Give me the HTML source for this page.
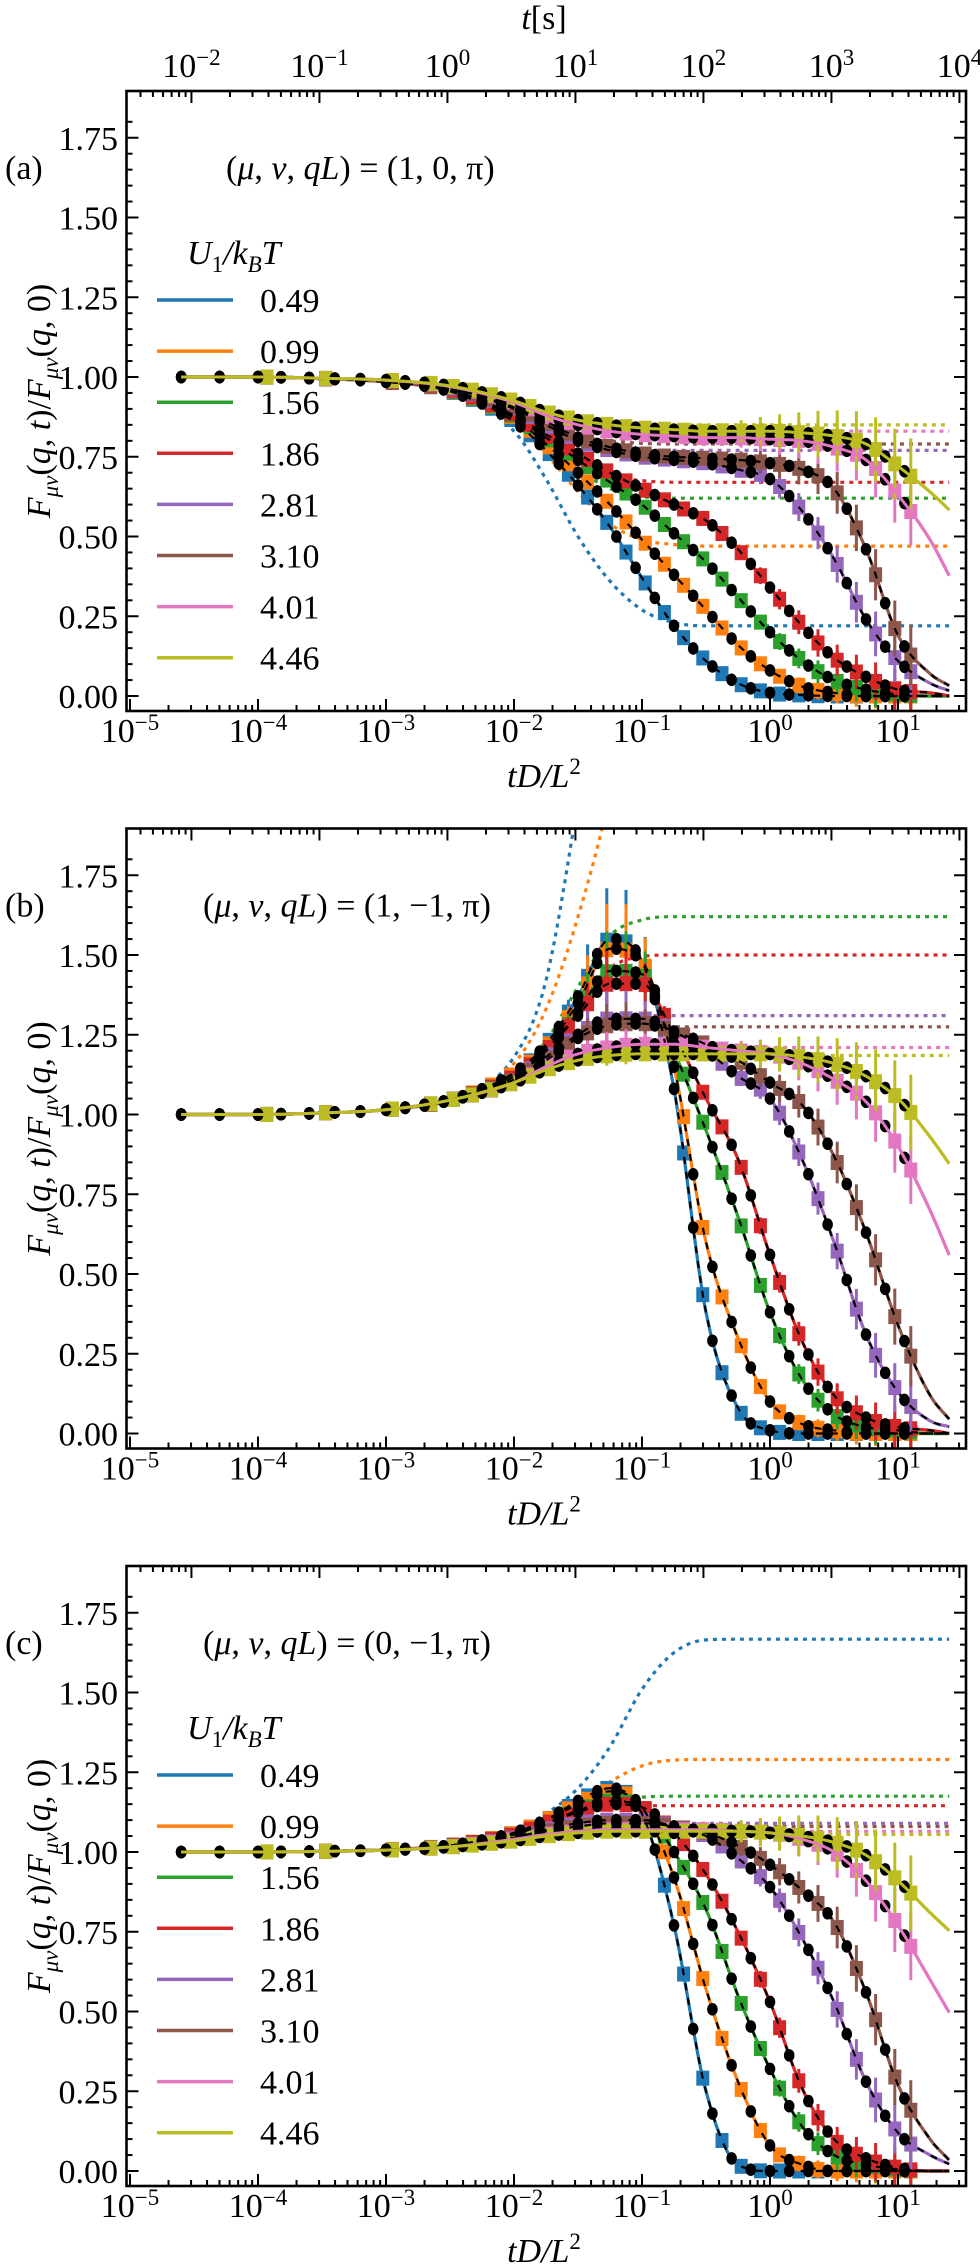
<!DOCTYPE html>
<html><head><meta charset="utf-8">
<style>
html,body{margin:0;padding:0;background:#fff;}
svg{display:block;font-family:"Liberation Serif","DejaVu Serif",serif;}
</style></head>
<body>
<svg id="fig" width="980" height="2266" viewBox="0 0 980 2266" xmlns="http://www.w3.org/2000/svg">
<rect x="0" y="0" width="980" height="2266" fill="#fff"/>
</svg>
<script>
// ---------- DATA ----------
const seriesLabels = ['0.49','0.99','1.56','1.86','2.81','3.10','4.01','4.46'];
const seriesColors = ['#1f77b4','#ff7f0e','#2ca02c','#d62728','#9467bd','#8c564b','#e377c2','#bcbd22'];
const panelLetters = ['(a)','(b)','(c)'];
const panelTitles = ['(1, 0, π)','(1, −1, π)','(0, −1, π)'];
const knotsLogX = [-4.6,-4,-3.5,-3,-2.5,-2,-1.75,-1.5,-1.25,-1,-0.75,-0.5,-0.25,0,0.25,0.5,0.75,1,1.25,1.41];
const yTicks = ['0.00','0.25','0.50','0.75','1.00','1.25','1.50','1.75'];
const xTickExps = [-5,-4,-3,-2,-1,0,1];
const topTickExps = [-2,-1,0,1,2,3,4];
const squareLogX = [-3.93,-3.47,-2.95,-2.65,-2.475,-2.325,-2.175,-2.025,-1.875,-1.725,-1.575,-1.425,-1.275,-1.125,-0.975,-0.825,-0.675,-0.525,-0.375,-0.225,-0.075,0.075,0.225,0.375,0.525,0.675,0.825,0.975,1.1];
const circleLogX = [-4.6,-4.3,-4.0,-3.82,-3.6,-3.4,-3.2,-3.0,-2.85,-2.7,-2.55,-2.4,-2.25,-2.1,-1.95,-1.8,-1.65,-1.5,-1.35,-1.2,-1.05,-0.9,-0.75,-0.6,-0.45,-0.3,-0.15,0,0.15,0.3,0.45,0.6,0.75,0.9,1.05];

const panelASolid = [
 [1,1,0.995,0.985,0.955,0.86,0.77,0.66,0.53,0.37,0.22,0.11,0.04,0.01,0.003,0,0,0,0,0],
 [1,1,0.995,0.985,0.957,0.87,0.79,0.70,0.60,0.49,0.38,0.27,0.16,0.08,0.03,0.01,0,0,0,0],
 [1,1,0.995,0.985,0.958,0.875,0.81,0.74,0.67,0.60,0.51,0.42,0.31,0.20,0.11,0.05,0.02,0.005,0,0],
 [1,1,0.995,0.985,0.96,0.88,0.82,0.76,0.70,0.65,0.60,0.55,0.46,0.34,0.22,0.12,0.06,0.02,0.01,0],
 [1,1,0.995,0.987,0.965,0.90,0.85,0.80,0.77,0.75,0.74,0.73,0.71,0.68,0.58,0.43,0.24,0.11,0.04,0.015],
 [1,1,0.995,0.987,0.966,0.905,0.86,0.81,0.78,0.76,0.75,0.745,0.74,0.73,0.71,0.65,0.46,0.19,0.07,0.03],
 [1,1,0.996,0.99,0.97,0.92,0.88,0.85,0.83,0.82,0.815,0.81,0.81,0.805,0.80,0.78,0.74,0.63,0.49,0.37],
 [1,1,0.996,0.99,0.972,0.925,0.89,0.865,0.85,0.84,0.835,0.83,0.83,0.83,0.825,0.815,0.79,0.72,0.64,0.58]
];
const panelADotted = [
 [1,1,0.995,0.985,0.95,0.83,0.68,0.50,0.36,0.27,0.23,0.22,0.22,0.22,0.22,0.22,0.22,0.22,0.22,0.22],
 [1,1,0.995,0.985,0.955,0.86,0.76,0.64,0.54,0.49,0.475,0.47,0.47,0.47,0.47,0.47,0.47,0.47,0.47,0.47],
 [1,1,0.995,0.985,0.957,0.87,0.79,0.71,0.65,0.625,0.62,0.62,0.62,0.62,0.62,0.62,0.62,0.62,0.62,0.62],
 [1,1,0.995,0.985,0.96,0.88,0.80,0.73,0.69,0.675,0.67,0.67,0.67,0.67,0.67,0.67,0.67,0.67,0.67,0.67],
 [1,1,0.995,0.987,0.965,0.90,0.84,0.80,0.78,0.772,0.77,0.77,0.77,0.77,0.77,0.77,0.77,0.77,0.77,0.77],
 [1,1,0.995,0.987,0.966,0.905,0.855,0.815,0.80,0.792,0.79,0.79,0.79,0.79,0.79,0.79,0.79,0.79,0.79,0.79],
 [1,1,0.996,0.99,0.97,0.92,0.88,0.85,0.835,0.83,0.83,0.83,0.83,0.83,0.83,0.83,0.83,0.83,0.83,0.83],
 [1,1,0.996,0.99,0.972,0.925,0.89,0.865,0.855,0.85,0.85,0.85,0.85,0.85,0.85,0.85,0.85,0.85,0.85,0.85]
];
const panelBSolid = [
 [1,1,1.005,1.015,1.045,1.13,1.22,1.37,1.55,1.48,1.08,0.38,0.08,0.01,0,0,0,0,0,0],
 [1,1,1.005,1.015,1.045,1.13,1.21,1.35,1.52,1.48,1.15,0.60,0.30,0.10,0.03,0.01,0,0,0,0],
 [1,1,1.005,1.015,1.045,1.12,1.20,1.32,1.45,1.44,1.20,0.95,0.68,0.38,0.17,0.06,0.02,0.01,0,0],
 [1,1,1.005,1.015,1.045,1.12,1.20,1.31,1.41,1.41,1.25,1.05,0.86,0.56,0.29,0.12,0.05,0.02,0.01,0],
 [1,1,1.005,1.015,1.045,1.11,1.18,1.25,1.30,1.30,1.26,1.20,1.12,1.05,0.86,0.60,0.31,0.13,0.04,0.02],
 [1,1,1.005,1.015,1.045,1.11,1.17,1.24,1.28,1.285,1.26,1.22,1.17,1.10,1.03,0.87,0.63,0.34,0.12,0.04],
 [1,1,1.005,1.015,1.045,1.10,1.15,1.19,1.21,1.22,1.22,1.21,1.20,1.19,1.16,1.11,1.04,0.90,0.70,0.55],
 [1,1,1.005,1.015,1.045,1.10,1.14,1.17,1.185,1.19,1.19,1.19,1.19,1.19,1.18,1.16,1.12,1.05,0.93,0.84]
];
const panelBDotted = [
 [1,1,1.005,1.015,1.05,1.18,1.42,1.98,2.6,3,3,3,3,3,3,3,3,3,3,3],
 [1,1,1.005,1.015,1.05,1.16,1.33,1.62,2.0,2.5,3,3,3,3,3,3,3,3,3,3],
 [1,1,1.005,1.015,1.045,1.13,1.23,1.40,1.56,1.61,1.62,1.62,1.62,1.62,1.62,1.62,1.62,1.62,1.62,1.62],
 [1,1,1.005,1.015,1.045,1.12,1.21,1.35,1.46,1.495,1.50,1.50,1.50,1.50,1.50,1.50,1.50,1.50,1.50,1.50],
 [1,1,1.005,1.015,1.045,1.11,1.18,1.25,1.30,1.31,1.31,1.31,1.31,1.31,1.31,1.31,1.31,1.31,1.31,1.31],
 [1,1,1.005,1.015,1.045,1.11,1.17,1.24,1.27,1.275,1.275,1.275,1.275,1.275,1.275,1.275,1.275,1.275,1.275,1.275],
 [1,1,1.005,1.015,1.045,1.10,1.15,1.19,1.205,1.21,1.21,1.21,1.21,1.21,1.21,1.21,1.21,1.21,1.21,1.21],
 [1,1,1.005,1.015,1.045,1.10,1.14,1.17,1.182,1.185,1.185,1.185,1.185,1.185,1.185,1.185,1.185,1.185,1.185,1.185]
];
const panelCSolid = [
 [1,1,1.002,1.007,1.02,1.06,1.10,1.16,1.20,1.12,0.77,0.25,0.02,0,0,0,0,0,0,0],
 [1,1,1.002,1.007,1.02,1.06,1.10,1.15,1.19,1.14,0.92,0.57,0.28,0.08,0.02,0,0,0,0,0],
 [1,1,1.002,1.007,1.02,1.055,1.09,1.13,1.16,1.14,1.00,0.82,0.55,0.32,0.14,0.05,0.02,0.005,0,0],
 [1,1,1.002,1.007,1.02,1.055,1.09,1.125,1.15,1.14,1.06,0.93,0.75,0.53,0.26,0.10,0.04,0.01,0,0],
 [1,1,1.002,1.006,1.018,1.045,1.07,1.09,1.10,1.10,1.08,1.05,0.98,0.89,0.73,0.53,0.28,0.12,0.05,0.02],
 [1,1,1.002,1.006,1.018,1.043,1.065,1.08,1.09,1.09,1.08,1.06,1.02,0.96,0.88,0.78,0.56,0.27,0.10,0.03],
 [1,1,1.002,1.006,1.016,1.04,1.055,1.065,1.07,1.07,1.07,1.07,1.065,1.06,1.04,1.00,0.91,0.77,0.60,0.49],
 [1,1,1.002,1.006,1.016,1.035,1.05,1.06,1.065,1.065,1.065,1.065,1.065,1.06,1.05,1.03,0.99,0.91,0.81,0.75]
];
const panelCDotted = [
 [1,1,1.002,1.007,1.02,1.07,1.12,1.20,1.33,1.51,1.625,1.665,1.667,1.667,1.667,1.667,1.667,1.667,1.667,1.667],
 [1,1,1.002,1.007,1.02,1.065,1.10,1.15,1.22,1.27,1.288,1.29,1.29,1.29,1.29,1.29,1.29,1.29,1.29,1.29],
 [1,1,1.002,1.007,1.02,1.055,1.09,1.13,1.16,1.172,1.175,1.175,1.175,1.175,1.175,1.175,1.175,1.175,1.175,1.175],
 [1,1,1.002,1.007,1.02,1.055,1.09,1.12,1.14,1.145,1.145,1.145,1.145,1.145,1.145,1.145,1.145,1.145,1.145,1.145],
 [1,1,1.002,1.006,1.018,1.045,1.07,1.085,1.09,1.09,1.09,1.09,1.09,1.09,1.09,1.09,1.09,1.09,1.09,1.09],
 [1,1,1.002,1.006,1.018,1.043,1.063,1.075,1.08,1.08,1.08,1.08,1.08,1.08,1.08,1.08,1.08,1.08,1.08,1.08],
 [1,1,1.002,1.006,1.016,1.04,1.055,1.063,1.065,1.065,1.065,1.065,1.065,1.065,1.065,1.065,1.065,1.065,1.065,1.065],
 [1,1,1.002,1.006,1.016,1.035,1.048,1.054,1.055,1.055,1.055,1.055,1.055,1.055,1.055,1.055,1.055,1.055,1.055,1.055]
];
const solids = [panelASolid, panelBSolid, panelCSolid];
const dotteds = [panelADotted, panelBDotted, panelCDotted];

// ---------- LAYOUT ----------
const NS = 'http://www.w3.org/2000/svg';
const svg = document.getElementById('fig');
const panelOffsets = [0, 737.5, 1475];
const X0 = 130, DEC = 128, L = 126.5, R = 966;
const TOPSHIFT = 2.52;
function xPix(lx){ return X0 + (lx + 5) * DEC; }
function yPix(v, oy){ return oy + 377 + (1 - v) * 319; }
function mk(tag, attrs, parent){
  const e = document.createElementNS(NS, tag);
  for (const k in attrs) e.setAttribute(k, attrs[k]);
  (parent || svg).appendChild(e);
  return e;
}
function interp(xs, ys, x){
  const n = xs.length;
  if (x <= xs[0]) return ys[0];
  if (x >= xs[n-1]) return ys[n-1];
  const d = [], m = [];
  for (let i=0;i<n-1;i++) d.push((ys[i+1]-ys[i])/(xs[i+1]-xs[i]));
  m.push(d[0]);
  for (let i=1;i<n-1;i++){ m.push(d[i-1]*d[i] <= 0 ? 0 : (d[i-1]+d[i])/2); }
  m.push(d[n-2]);
  for (let i=0;i<n-1;i++){
    if (d[i]===0){ m[i]=0; m[i+1]=0; continue; }
    const a=m[i]/d[i], b=m[i+1]/d[i], s=a*a+b*b;
    if (s>9){ const t=3/Math.sqrt(s); m[i]=t*a*d[i]; m[i+1]=t*b*d[i]; }
  }
  let k=0; while (x > xs[k+1]) k++;
  const h = xs[k+1]-xs[k], t=(x-xs[k])/h;
  const h00=2*t*t*t-3*t*t+1, h10=t*t*t-2*t*t+t, h01=-2*t*t*t+3*t*t, h11=t*t*t-t*t;
  return h00*ys[k]+h10*h*m[k]+h01*ys[k+1]+h11*h*m[k+1];
}
function curvePath(vals, oy){
  let d='';
  for (let lx=knotsLogX[0]; lx<=knotsLogX[knotsLogX.length-1]+1e-9; lx+=0.02){
    const v = interp(knotsLogX, vals, lx);
    d += (d?'L':'M') + xPix(lx).toFixed(1) + ',' + yPix(v, oy).toFixed(1);
  }
  return d;
}

const defs = mk('defs', {});
for (let p=0;p<3;p++){
  const oy = panelOffsets[p];
  const cp = mk('clipPath', {id:'clip'+p}, defs);
  mk('rect', {x:L, y:oy+91, width:R-L, height:620}, cp);
}

for (let p=0;p<3;p++){
  const oy = panelOffsets[p];
  const g = mk('g', {});
  
  
  const plot = mk('g', {'clip-path':'url(#clip'+p+')'}, g);
  
  

  for (let s=0;s<8;s++){
    const e = mk('path', {d:curvePath(dotteds[p][s], oy), fill:'none', stroke:seriesColors[s], 'stroke-width':3.2, 'stroke-dasharray':'4 5'}, plot);
    
    
  }
  for (let s=0;s<8;s++){
    const sg = mk('g', {}, plot);
    
    
    for (const lx of squareLogX){
      const v = interp(knotsLogX, solids[p][s], lx);
      let err = (0.008 + 0.045*Math.max(0, lx+0.6)) * (0.4 + s/7);
      if (p===1) err += 0.17*Math.exp(-Math.pow((lx+1.2)/0.3,2))*(1 - s/8);
      const x = xPix(lx), y = yPix(v, oy), eh = err*319;
      const eb = mk('line', {x1:x, x2:x, y1:y-eh, y2:y+eh, stroke:seriesColors[s], 'stroke-width':3}, sg);
      
      
      const sq = mk('rect', {x:x-6.5, y:y-7.5, width:13, height:15, fill:seriesColors[s]}, sg);
      
      
    }
    const line = mk('path', {d:curvePath(solids[p][s], oy), fill:'none', stroke:seriesColors[s], 'stroke-width':3.2}, sg);
    
    
  }
  for (let s=0;s<8;s++){
    const tg = mk('g', {}, plot);
    
    
    for (const lx of circleLogX){
      const v = interp(knotsLogX, solids[p][s], lx);
      const c = mk('ellipse', {cx:xPix(lx), cy:yPix(v, oy), rx:5.3, ry:6.3, fill:'#000'}, tg);
      
      
    }
    const dl = mk('path', {d:curvePath(solids[p][s], oy), fill:'none', stroke:'#000', 'stroke-width':2.2, 'stroke-dasharray':'7 8'}, tg);
    
    
  }
  for (const s of [6,7]){
    const l2 = mk('path', {d:curvePath(solids[p][s], oy), fill:'none', stroke:seriesColors[s], 'stroke-width':3}, plot);
    
    
  }

  const frame = mk('rect', {x:L, y:oy+91, width:R-L, height:620, fill:'none', stroke:'#000', 'stroke-width':2.6}, g);
  
  

  const yt = mk('g', {stroke:'#000', 'stroke-width':2}, g);
  
  
  for (let k=0;k<=37;k++){
    const v = -0.05 + k*0.05;
    const y = yPix(v, oy);
    if (y < oy+92 || y > oy+710) continue;
    const major = Math.abs(Math.round(v*4) - v*4) < 1e-6;
    const len = major ? 12 : 6;
    mk('line', {x1:L, x2:L+len, y1:y, y2:y}, yt);
    mk('line', {x1:R, x2:R-len, y1:y, y2:y}, yt);
  }
  yTicks.forEach(function(lab){
    const t = mk('text', {x:118, y:yPix(parseFloat(lab), oy)+12, 'font-size':34, 'text-anchor':'end', fill:'#000'}, g);
    t.textContent = lab;
    
    
  });
  const xt = mk('g', {stroke:'#000', 'stroke-width':2}, g);
  
  
  for (let e=-5;e<=1;e++){
    for (let m=1;m<10;m++){
      const x = xPix(e + Math.log10(m));
      if (x < L+1 || x > R-1) continue;
      const len = m===1 ? 12 : 6;
      mk('line', {x1:x, x2:x, y1:oy+711, y2:oy+711-len}, xt);
    }
  }
  for (let e=-3;e<=4;e++){
    for (let m=1;m<10;m++){
      const x = xPix(e + Math.log10(m) - TOPSHIFT);
      if (x < L+1 || x > R-1) continue;
      const len = m===1 ? 12 : 6;
      mk('line', {x1:x, x2:x, y1:oy+91, y2:oy+91+len}, xt);
    }
  }
  xTickExps.forEach(function(ex){
    const t = mk('text', {x:xPix(ex), y:oy+742, 'font-size':34, 'text-anchor':'middle', fill:'#000'}, g);
    
    
    const a = mk('tspan', {}, t); a.textContent = '10';
    const b = mk('tspan', {dy:-12, 'font-size':23}, t); b.textContent = (ex<0?'−':'') + Math.abs(ex);
  });
  const xl = mk('text', {x:544, y:oy+787, 'font-size':34, 'text-anchor':'middle', 'font-style':'italic', fill:'#000'}, g);
  
  
  xl.innerHTML = 'tD/L<tspan dy="-13" font-size="23" font-style="normal">2</tspan>';

  const yl = mk('text', {transform:'translate(50,'+(oy+401)+') rotate(-90)', 'font-size':34, 'text-anchor':'middle', fill:'#000'}, g);
  
  
  yl.innerHTML = '<tspan font-style="italic">F</tspan><tspan font-size="23" dy="8" font-style="italic">μν</tspan><tspan dy="-8">(</tspan><tspan font-style="italic">q</tspan>, <tspan font-style="italic">t</tspan>)/<tspan font-style="italic">F</tspan><tspan font-size="23" dy="8" font-style="italic">μν</tspan><tspan dy="-8">(</tspan><tspan font-style="italic">q</tspan>, 0)';

  const pl = mk('text', {x:5, y:oy+179, 'font-size':34, fill:'#000'}, g);
  pl.textContent = panelLetters[p];
  
  
  const an = mk('text', {x:(p===0?226:203), y:oy+179, 'font-size':34, fill:'#000'}, g);
  
  
  an.innerHTML = '(<tspan font-style="italic">μ</tspan>, <tspan font-style="italic">ν</tspan>, <tspan font-style="italic">qL</tspan>) = ' + panelTitles[p];

  if (p !== 1){
    const lg = mk('g', {}, g);
    
    
    const lt = mk('text', {x:187, y:oy+264, 'font-size':34, fill:'#000', 'font-style':'italic'}, lg);
    
    
    lt.innerHTML = 'U<tspan font-size="23" dy="8" font-style="normal">1</tspan><tspan dy="-8">/k</tspan><tspan font-size="23" dy="8">B</tspan><tspan dy="-8">T</tspan>';
    for (let s=0;s<8;s++){
      const y = oy + 300 + s*51.1;
      const eg = mk('g', {}, lg);
      
      
      mk('line', {x1:157, x2:233, y1:y, y2:y, stroke:seriesColors[s], 'stroke-width':3.5}, eg);
      const tx = mk('text', {x:260, y:y+12, 'font-size':34, fill:'#000'}, eg);
      tx.textContent = seriesLabels[s];
    }
  }
}
topTickExps.forEach(function(ex){
  const t = mk('text', {x:xPix(ex - TOPSHIFT), y:77, 'font-size':34, 'text-anchor':'middle', fill:'#000'});
  
  
  const a = mk('tspan', {}, t); a.textContent = '10';
  const b = mk('tspan', {dy:-12, 'font-size':23}, t); b.textContent = (ex<0?'−':'') + Math.abs(ex);
});
const tt = mk('text', {x:544, y:29, 'font-size':34, 'text-anchor':'middle', fill:'#000'});


tt.innerHTML = '<tspan font-style="italic">t</tspan>[s]';
</script>
</body></html>
